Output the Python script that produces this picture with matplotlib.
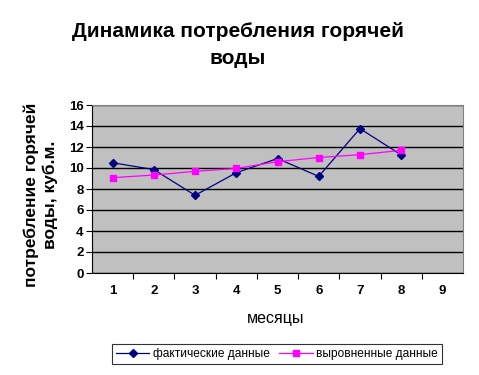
import matplotlib
matplotlib.use("Agg")
import matplotlib.pyplot as plt
import numpy as np

plt.rcParams['font.family'] = ['Liberation Sans', 'DejaVu Sans']

months = [1, 2, 3, 4, 5, 6, 7, 8, 9]
actual = [10.5, 9.85, 7.4, 9.55, 10.9, 9.2, 13.75, 11.25]
aligned = [9.08, 9.33, 9.68, 9.96, 10.6, 11.0, 11.27, 11.68]
yticks = [0, 2, 4, 6, 8, 10, 12, 14, 16]

fig = plt.figure(figsize=(4.79, 3.75), dpi=100)
ax = fig.add_axes([92/479, 1 - 273/375, (463 - 92)/479, (273 - 105)/375])
ax.set_facecolor('#c0c0c0')

x_act = np.arange(1, len(actual) + 1)
x_al = np.arange(1, len(aligned) + 1)
ax.plot(x_act, actual, color='#000080', lw=0.9, marker='D', ms=4.2,
        label='фактические данные', zorder=3)
ax.plot(x_al, aligned, color='#ff00ff', lw=0.9, marker='s', ms=5,
        label='выровненные данные', zorder=3)

ax.set_xlim(0.5, len(months) + 0.5)
ax.set_ylim(0, 16)
ax.set_yticks(yticks)
ax.set_yticklabels([str(v) for v in yticks], fontsize=9.5, fontweight='bold')
ax.set_xticks(np.arange(1.5, len(months), 1.0))
ax.set_xticks(months, minor=True)
ax.set_xticklabels([])
ax.set_xticklabels([str(m) for m in months], minor=True, fontsize=9.5, fontweight='bold')
ax.tick_params(axis='x', which='major', length=4, color='black', direction='out')
ax.tick_params(axis='x', which='minor', length=0, pad=9)
ax.tick_params(axis='y', length=4, direction='out', pad=2)
ax.yaxis.grid(True, color='black', lw=1)
ax.set_axisbelow(True)
for s in ['top', 'right']:
    ax.spines[s].set_color('#808080')
ax.spines['left'].set_color('black')
ax.spines['bottom'].set_color('black')

fig.text(238/479, 1 - 45/375, 'Динамика потребления горячей\nводы', ha='center', va='center',
         fontsize=15, fontweight='bold', linespacing=1.5)
fig.text(41/479, 1 - 195/375, 'потребление горячей\nводы, куб.м.', ha='center', va='center',
         rotation=90, fontsize=12.5, fontweight='bold', linespacing=1.3)
fig.text(276/479, 1 - 318/375, 'месяцы', ha='center', va='center', fontsize=11.5)

leg = fig.legend(loc='center', bbox_to_anchor=(277/479, 1 - 354/375), ncol=2, fontsize=8.6,
                 frameon=True, fancybox=False, edgecolor='black', handlelength=2.8,
                 columnspacing=0.8, handletextpad=0.3, borderpad=0.35)
leg.get_frame().set_linewidth(0.8)

fig.savefig('out.png', dpi=100)
